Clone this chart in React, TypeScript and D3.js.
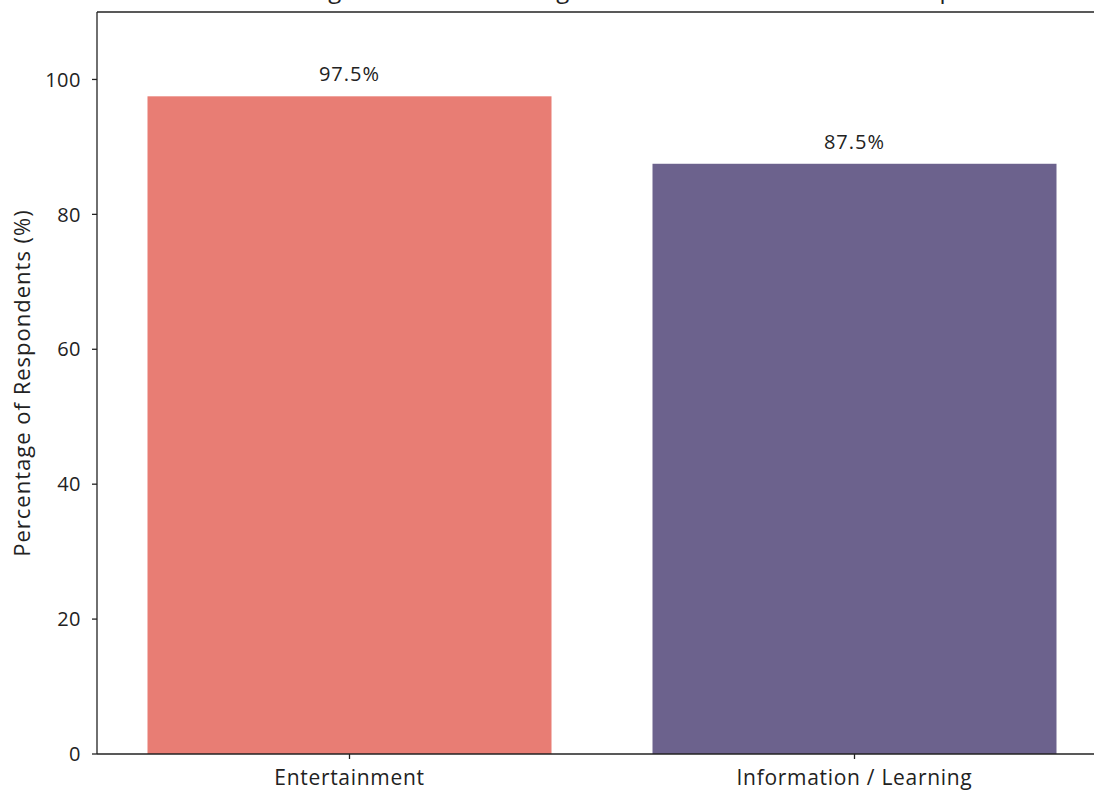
import React from "react";
import * as d3 from "d3";

const categories: string[] = ["Entertainment", "Information / Learning"];
const percentages: number[] = [97.5, 87.5];
const barColors: string[] = ["#E87D74", "#6C628D"];
const yTicks: number[] = [0, 20, 40, 60, 80, 100];
const chartTitle = "Percentage of Students Using Social Media for Each Main Purpose";
const yAxisLabel = "Percentage of Respondents (%)";

const W = 1094;
const H = 792;
const FONT = "'Open Sans', 'Noto Sans', sans-serif";
const INK = "#222";

export default function App() {
  const left = 97;
  const top = 12;
  const bottom = 754;

  // category positions: integer slots, axis spans -0.5 .. n-0.5
  const x = d3.scaleLinear().domain([-0.5, 1.5]).range([left, left + 2 * 505]);
  const y = d3.scaleLinear().domain([0, 110]).range([bottom, top]);
  const barWidth = 0.8;

  return (
    <svg
      width={W}
      height={H}
      style={{ position: "absolute", left: 0, top: 0, background: "#fff" }}
      fontFamily={FONT}
    >
      <text
        x={610}
        y={-2}
        textAnchor="middle"
        fontSize={24}
        letterSpacing={0.6}
        fill={INK}
      >
        {chartTitle}
      </text>

      {categories.map((c, i) => {
        const x0 = x(i - barWidth / 2);
        const x1 = x(i + barWidth / 2);
        return (
          <g key={c}>
            <rect
              x={x0}
              y={y(percentages[i])}
              width={x1 - x0}
              height={y(0) - y(percentages[i])}
              fill={barColors[i]}
            />
            <text
              x={x(i)}
              y={y(percentages[i]) - 15}
              textAnchor="middle"
              fontSize={20}
              letterSpacing={1}
              fill={INK}
            >
              {percentages[i].toFixed(1)}%
            </text>
          </g>
        );
      })}

      {/* spines */}
      <line x1={left} x2={left} y1={top} y2={bottom} stroke={INK} strokeWidth={1.3} />
      <line x1={left} x2={W + 20} y1={top} y2={top} stroke={INK} strokeWidth={1.3} />
      <line x1={left} x2={W + 20} y1={bottom} y2={bottom} stroke={INK} strokeWidth={1.3} />

      {/* y axis */}
      {yTicks.map((t) => (
        <g key={t}>
          <line x1={left - 5} x2={left} y1={y(t)} y2={y(t)} stroke={INK} strokeWidth={1.3} />
          <text
            x={left - 16}
            y={y(t)}
            dy="0.36em"
            textAnchor="end"
            fontSize={20}
            letterSpacing={0.5}
            fill={INK}
          >
            {t}
          </text>
        </g>
      ))}
      <text
        transform={`translate(30, ${(top + bottom) / 2}) rotate(-90)`}
        textAnchor="middle"
        fontSize={22}
        letterSpacing={1}
        fill={INK}
      >
        {yAxisLabel}
      </text>

      {/* x axis */}
      {categories.map((c, i) => (
        <g key={c}>
          <line x1={x(i)} x2={x(i)} y1={bottom} y2={bottom + 5} stroke={INK} strokeWidth={1.3} />
          <text
            x={x(i)}
            y={bottom + 31}
            textAnchor="middle"
            fontSize={21}
            letterSpacing={0.7}
            fill={INK}
          >
            {c}
          </text>
        </g>
      ))}
    </svg>
  );
}
